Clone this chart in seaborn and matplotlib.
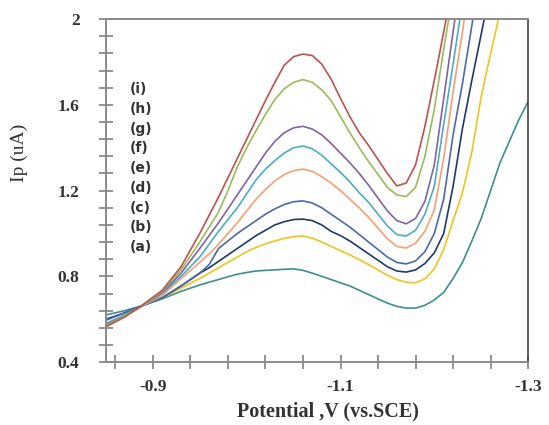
import matplotlib
matplotlib.use("Agg")
import matplotlib.pyplot as plt
import pandas as pd
import seaborn as sns
from matplotlib.ticker import FixedLocator

# potential grid (V vs SCE)
potential = [-0.85, -0.87, -0.89, -0.91, -0.93,
             -0.95, -0.96, -0.97, -0.98, -0.99, -1.00, -1.01, -1.02, -1.03, -1.04,
             -1.05, -1.06, -1.07, -1.08, -1.09, -1.10, -1.11, -1.12, -1.13, -1.14,
             -1.15, -1.16, -1.17, -1.18, -1.19, -1.20, -1.21, -1.22, -1.23, -1.24,
             -1.25, -1.26, -1.27, -1.28, -1.29, -1.30]

# currents (uA); each curve stops once it leaves the top
ip_a = [0.62, 0.64, 0.665, 0.695, 0.73,
        0.76, 0.773, 0.785, 0.798, 0.81, 0.818, 0.825, 0.828, 0.83, 0.833,
        0.835, 0.828, 0.815, 0.80, 0.785, 0.77, 0.755, 0.735, 0.715, 0.695,
        0.675, 0.66, 0.652, 0.652, 0.665, 0.69, 0.725, 0.79, 0.865, 0.965,
        1.07, 1.20, 1.33, 1.43, 1.53, 1.615]
ip_b = [0.57, 0.615, 0.665, 0.70, 0.745,
        0.79, 0.815, 0.84, 0.865, 0.89, 0.915, 0.935, 0.952, 0.965, 0.977,
        0.985, 0.988, 0.978, 0.96, 0.94, 0.92, 0.90, 0.878, 0.855, 0.83,
        0.805, 0.785, 0.772, 0.77, 0.788, 0.835, 0.925, 1.06, 1.19, 1.38,
        1.64, 1.84, 2.03]
ip_c = [0.60, 0.63, 0.665, 0.70, 0.755,
        0.815, 0.84, 0.87, 0.90, 0.93, 0.96, 0.99, 1.015, 1.04, 1.055,
        1.065, 1.067, 1.06, 1.04, 1.01, 0.99, 0.965, 0.935, 0.905, 0.875,
        0.845, 0.825, 0.82, 0.83, 0.86, 0.91, 1.00, 1.22, 1.49, 1.715,
        1.93, 2.15]
ip_d = [0.595, 0.63, 0.665, 0.70, 0.755,
        0.815, 0.855, 0.93, 0.965, 1.00, 1.03, 1.06, 1.09, 1.115, 1.135,
        1.148, 1.152, 1.142, 1.12, 1.09, 1.06, 1.03, 0.995, 0.96, 0.925,
        0.89, 0.865, 0.858, 0.872, 0.915, 1.00, 1.16, 1.46, 1.70, 1.97,
        2.25]
ip_e = [0.565, 0.615, 0.665, 0.71, 0.79,
        0.865, 0.905, 0.95, 1.00, 1.05, 1.105, 1.16, 1.205, 1.245, 1.275,
        1.293, 1.30, 1.29, 1.265, 1.235, 1.20, 1.16, 1.12, 1.075, 1.025,
        0.975, 0.94, 0.932, 0.955, 1.01, 1.11, 1.35, 1.66, 1.94, 2.25]
ip_f = [0.58, 0.62, 0.665, 0.72, 0.80,
        0.89, 0.95, 1.01, 1.065, 1.12, 1.185, 1.25, 1.30, 1.34, 1.375,
        1.40, 1.408, 1.395, 1.365, 1.325, 1.285, 1.24, 1.19, 1.145, 1.09,
        1.035, 0.995, 0.988, 1.015, 1.09, 1.22, 1.51, 1.79, 2.08]
ip_g = [0.575, 0.615, 0.665, 0.725, 0.815,
        0.93, 0.99, 1.05, 1.115, 1.18, 1.245, 1.31, 1.375, 1.43, 1.47,
        1.493, 1.50, 1.487, 1.46, 1.42, 1.375, 1.33, 1.28, 1.225, 1.165,
        1.105, 1.06, 1.045, 1.07, 1.15, 1.32, 1.63, 1.94, 2.25]
ip_h = [0.57, 0.615, 0.665, 0.73, 0.83,
        0.96, 1.03, 1.10, 1.20, 1.31, 1.40, 1.48, 1.555, 1.625, 1.675,
        1.705, 1.718, 1.705, 1.67, 1.62, 1.545, 1.47, 1.40, 1.335, 1.275,
        1.215, 1.18, 1.172, 1.215, 1.36, 1.58, 1.86, 2.12]
ip_i = [0.565, 0.61, 0.67, 0.735, 0.845,
        1.00, 1.085, 1.17, 1.26, 1.35, 1.44, 1.53, 1.62, 1.705, 1.785,
        1.825, 1.837, 1.83, 1.79, 1.72, 1.63, 1.545, 1.47, 1.41, 1.345,
        1.28, 1.222, 1.235, 1.32, 1.50, 1.715, 1.94, 2.17]

curve_labels = ["(a)", "(b)", "(c)", "(d)", "(e)", "(f)", "(g)", "(h)", "(i)"]
curve_data = [ip_a, ip_b, ip_c, ip_d, ip_e, ip_f, ip_g, ip_h, ip_i]
colors = ["#3a8f94", "#f2c318", "#1f3a68", "#4a6aa8", "#f4a070",
          "#4bacc6", "#8064a2", "#9bbb59", "#c0504d"]

rows = []
for lab, vals in zip(curve_labels, curve_data):
    for v, i in zip(potential, vals):
        rows.append({"curve": lab, "V": v, "Ip": i})
df = pd.DataFrame(rows)

sns.set_theme(style="white")
plt.rcParams["font.family"] = ["Liberation Serif", "DejaVu Serif"]

fig = plt.figure(figsize=(5.49, 4.25), dpi=100)
ax = fig.add_axes([0.193, 0.148, 0.769, 0.807])

sns.lineplot(data=df, x="V", y="Ip", hue="curve", palette=dict(zip(curve_labels, colors)),
             legend=False, errorbar=None, linewidth=1.2, ax=ax)

ax.set_xlim(-0.85, -1.30)
ax.set_ylim(0.4, 2.0)

ax.xaxis.set_major_locator(FixedLocator([-0.9, -1.1, -1.3]))
ax.xaxis.set_minor_locator(FixedLocator([-0.86 - 0.04 * k for k in range(12)]))
ax.set_xticklabels(["-0.9", "-1.1", "-1.3"])
ax.yaxis.set_major_locator(FixedLocator([0.4, 0.8, 1.2, 1.6, 2.0]))
ax.yaxis.set_minor_locator(FixedLocator([0.4 + 0.08 * k for k in range(21)]))
ax.set_yticklabels(["0.4", "0.8", "1.2", "1.6", "2"])

ax.tick_params(which="both", direction="inout", length=10, width=1.2, color="#808080",
               bottom=True, left=True)
ax.tick_params(axis="y", which="major", pad=14, labelsize=12.5, labelcolor="#333333")
ax.tick_params(axis="x", which="major", pad=7, labelsize=12.5, labelcolor="#333333")
for lbl in ax.get_xticklabels() + ax.get_yticklabels():
    lbl.set_fontweight("bold")

for side in ["left", "bottom", "top"]:
    ax.spines[side].set_color("#8a8a8a")
    ax.spines[side].set_linewidth(1.4)
ax.spines["right"].set_color("#444444")
ax.spines["right"].set_linewidth(1.2)

ax.set_xlabel("Potential ,V (vs.SCE)", fontsize=14.5, fontweight="bold", color="#333333")
ax.set_ylabel("Ip (uA)", fontsize=14, color="#333333")
ax.xaxis.set_label_coords(0.526, -0.115)
ax.yaxis.set_label_coords(-0.185, 0.61)

# curve labels stacked top to bottom (i) ... (a)
for k, lab in enumerate(curve_labels[::-1]):
    ax.text(0.057, 0.796 - 0.0576 * k, lab, transform=ax.transAxes, fontsize=10,
            fontweight="bold", color="#333333", va="center", ha="left",
            family=["DejaVu Sans"])

fig.savefig("out.png", dpi=100)
